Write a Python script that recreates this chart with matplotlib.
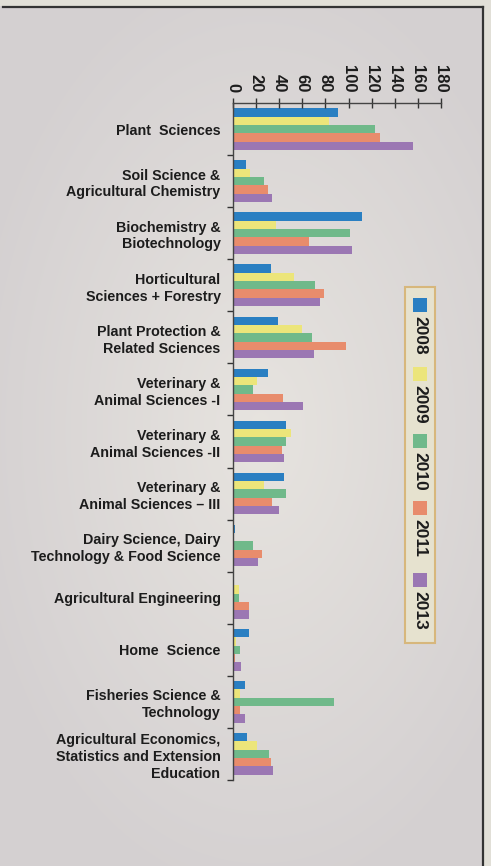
import numpy as np
import matplotlib.pyplot as plt
from matplotlib.patches import Rectangle
from matplotlib.lines import Line2D

plt.rcParams['font.family'] = ['Liberation Sans', 'DejaVu Sans']

categories = [
    "Plant  Sciences",
    "Soil Science &\nAgricultural Chemistry",
    "Biochemistry &\nBiotechnology",
    "Horticultural\nSciences + Forestry",
    "Plant Protection &\nRelated Sciences",
    "Veterinary &\nAnimal Sciences -I",
    "Veterinary &\nAnimal Sciences -II",
    "Veterinary &\nAnimal Sciences \u2013 III",
    "Dairy Science, Dairy\nTechnology & Food Science",
    "Agricultural Engineering",
    "Home  Science",
    "Fisheries Science &\nTechnology",
    "Agricultural Economics,\nStatistics and Extension\nEducation",
]
years = ["2008", "2009", "2010", "2011", "2013"]
v2008 = [91, 11, 112, 33, 39, 30, 46, 44, 2, 0, 14, 10, 12]
v2009 = [83, 15, 37, 53, 60, 21, 50, 27, 0, 5, 3, 6, 21]
v2010 = [123, 27, 101, 71, 68, 17, 46, 46, 17, 5, 6, 87, 31]
v2011 = [127, 30, 66, 79, 98, 43, 42, 34, 25, 14, 2, 6, 33]
v2013 = [156, 34, 103, 75, 70, 61, 44, 40, 22, 14, 7, 10, 35]
series = [v2008, v2009, v2010, v2011, v2013]
colors = ['#2a7fc2', '#ece57a', '#70b98a', '#e88c6c', '#9b77b3']
x_ticks = [0, 20, 40, 60, 80, 100, 120, 140, 160, 180]

W, H = 491, 866
fig = plt.figure(figsize=(W / 100, H / 100), dpi=100)

# background with soft radial gradient
bg = fig.add_axes([0, 0, 1, 1])
yy, xx = np.mgrid[0:H, 0:W]
r = np.sqrt(((xx - 260) / 300.0) ** 2 + ((yy - 430) / 480.0) ** 2)
r = np.clip(r, 0, 1)
c_in = np.array([0.905, 0.893, 0.875])
c_out = np.array([0.832, 0.816, 0.820])
img = c_in[None, None, :] * (1 - r[..., None]) + c_out[None, None, :] * r[..., None]
img[:6, :, :] = [0.885, 0.875, 0.845]
img[:, 484:, :] = [0.885, 0.875, 0.845]
bg.imshow(img, extent=[0, W, H, 0], aspect='auto')
bg.set_xlim(0, W)
bg.set_ylim(H, 0)
bg.axis('off')
bg.add_line(Line2D([3, 483], [6.5, 6.5], color='#333333', lw=1.6))
bg.add_line(Line2D([483, 483], [6.5, H], color='#333333', lw=1.6))

# main chart
ax = fig.add_axes([233 / W, (H - 780) / H, (441 - 233) / W, (780 - 103) / H])
ax.set_facecolor('none')
y = np.arange(len(categories))
bh = 0.16
for i, (vals, col) in enumerate(zip(series, colors)):
    ax.barh(y + (i - 2) * bh, vals, height=bh, color=col, label=years[i])

ax.set_xlim(0, 180)
ax.set_ylim(len(categories) - 0.5, -0.5)
ax.xaxis.tick_top()
ax.set_xticks(x_ticks)
ax.set_xticklabels([str(t) for t in x_ticks], rotation=-90, fontsize=12,
                   fontweight='bold', color='#1c1c1c')
ax.tick_params(axis='x', direction='inout', length=7, width=1, color='#333333', pad=4)
ax.set_yticks(y)
ax.set_yticklabels(categories, fontsize=10.3, fontweight='bold', color='#1c1c1c',
                   linespacing=1.25)
ax.set_yticks(np.arange(len(categories)) + 0.5, minor=True)
ax.tick_params(axis='y', which='major', length=0, pad=9)
ax.tick_params(axis='y', which='minor', length=4, width=1, color='#333333')
for s in ['right', 'bottom']:
    ax.spines[s].set_visible(False)
for s in ['left', 'top']:
    ax.spines[s].set_color('#444444')
    ax.spines[s].set_linewidth(1)

# rotated legend built by hand in pixel coordinates
bg.add_patch(Rectangle((405, 287), 30, 356, facecolor='#e6e2cf',
                       edgecolor='#d7b77c', lw=1.5, zorder=3))
sq_y = [298, 367, 434, 501, 573]
for col, yr, sy in zip(colors, years, sq_y):
    bg.add_patch(Rectangle((413, sy), 14, 14, facecolor=col, edgecolor='none', zorder=4))
    bg.text(420, sy + 18, yr, rotation=-90, ha='center', va='top', fontsize=12.5,
            fontweight='bold', color='#1c1c1c', zorder=4)

fig.savefig('out.png', dpi=100)
